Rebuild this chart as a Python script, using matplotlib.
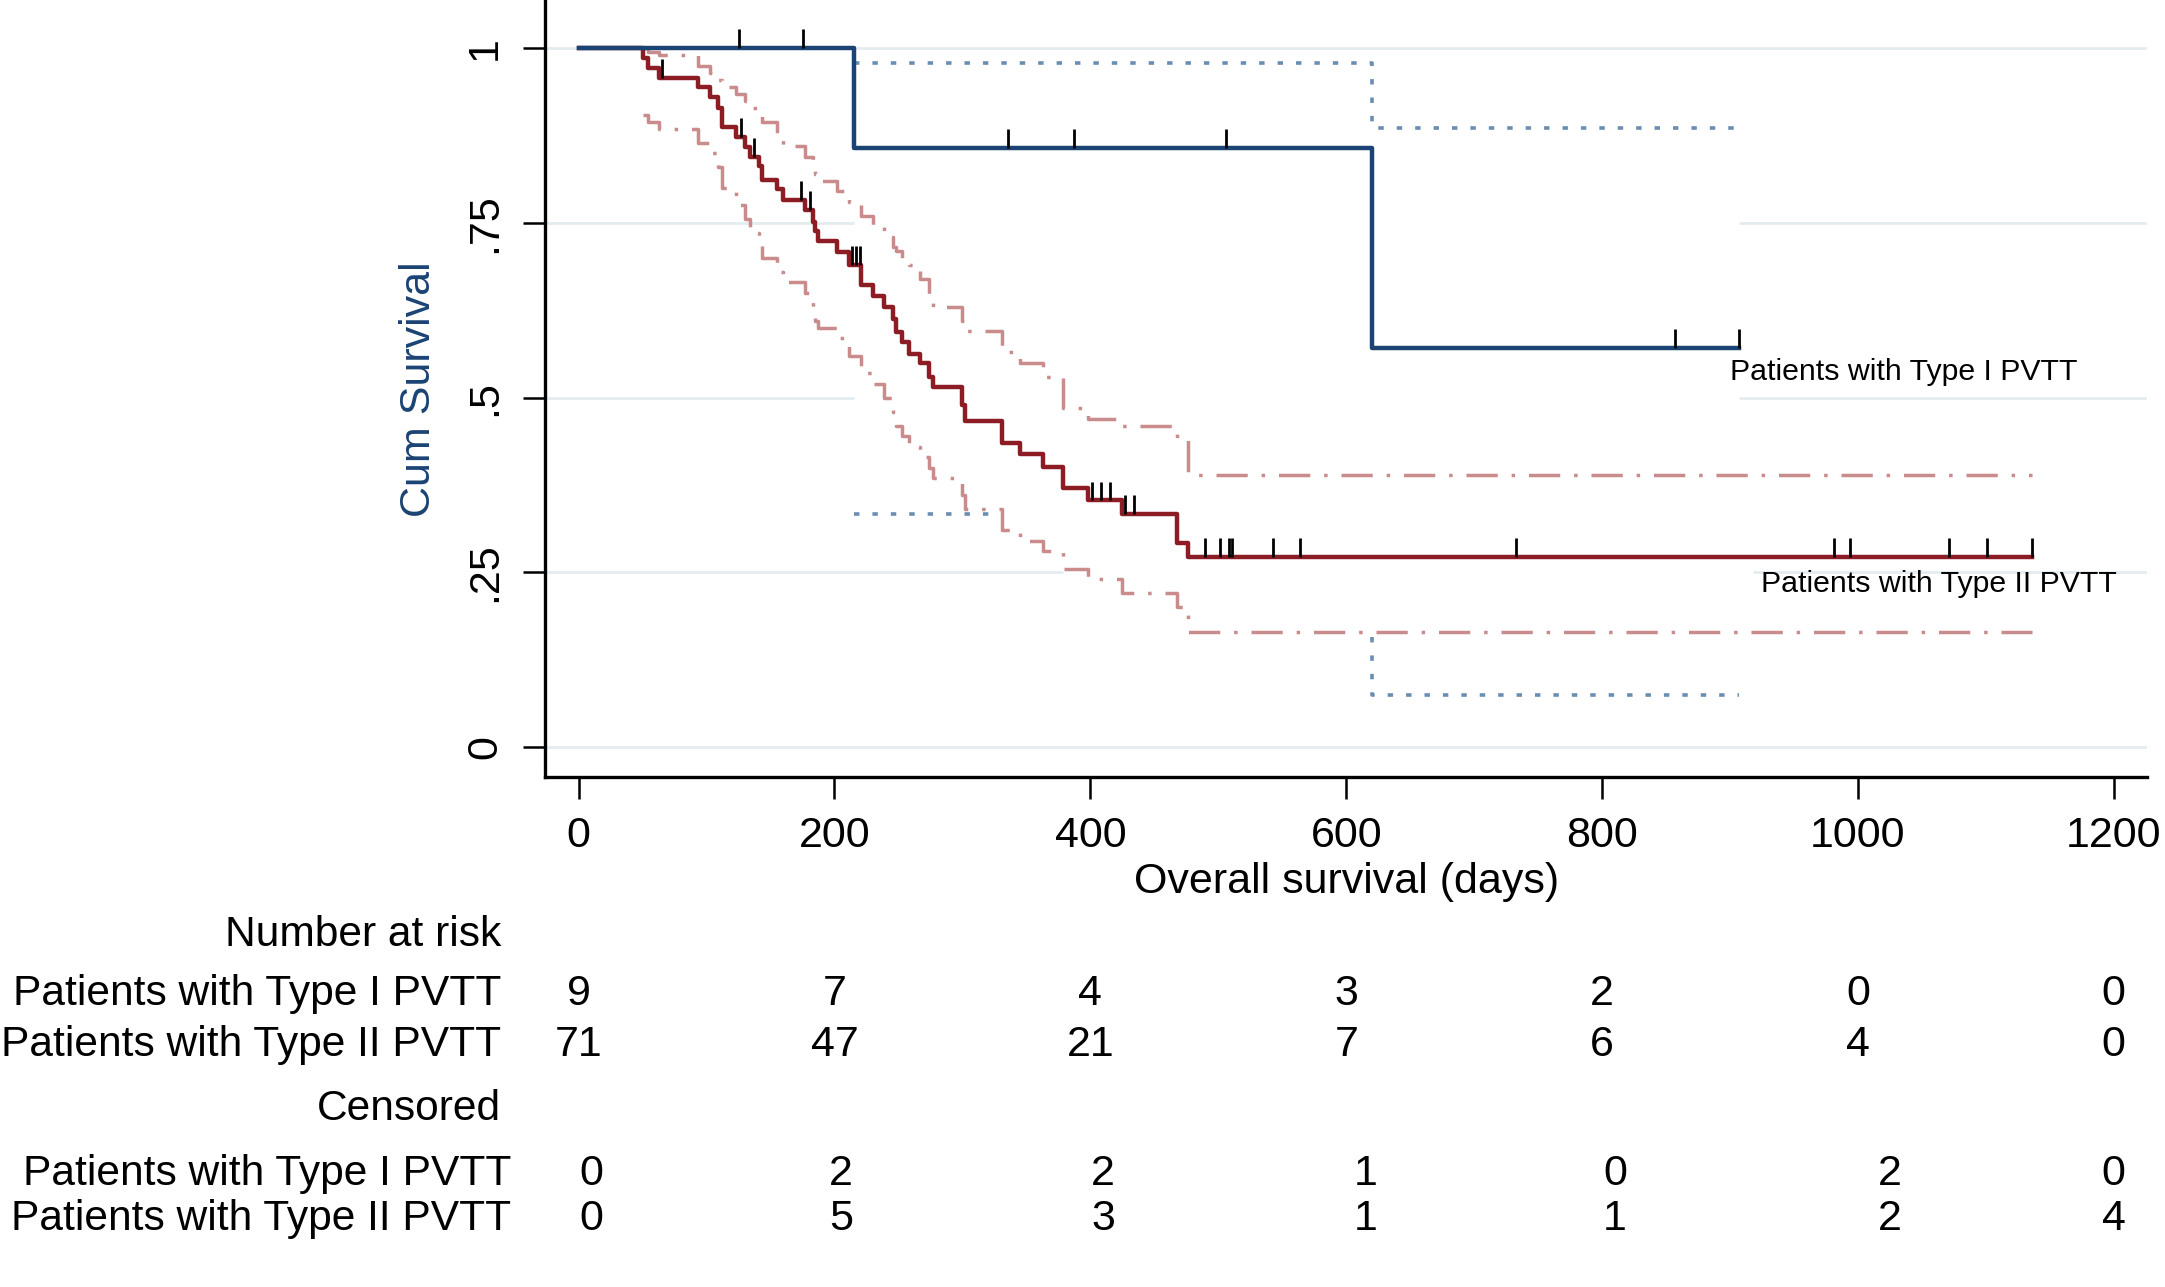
import numpy as np
import matplotlib
matplotlib.use("Agg")
import matplotlib.pyplot as plt
from matplotlib.transforms import blended_transform_factory

plt.rcParams['font.family'] = ['Liberation Sans', 'DejaVu Sans']

# Type I PVTT, Kaplan-Meier estimate
km1_t = [0, 215, 620, 907]
km1_s = [1.0, 0.857, 0.571, 0.571]
km1_hi_t = [215, 620, 907]
km1_hi = [0.979, 0.886, 0.886]
# lower band, only the parts that show in the figure
km1_lo_t = [215, 330, np.nan, 620, 620, 907]
km1_lo = [0.334, 0.334, np.nan, 0.158, 0.075, 0.075]
km1_cens = [125, 175, 336, 387, 506, 857, 907]

# Type II PVTT
km2_t = [0, 50, 54, 63, 93, 103, 109, 112, 123, 130, 134, 141, 143, 155, 160,
         177, 183, 185, 187, 202, 211, 221, 230, 239, 246, 248, 253, 258, 267,
         274, 277, 300, 302, 331, 345, 363, 379, 398, 425, 468, 476, 1136]
km2_s = [1.0, 0.986, 0.972, 0.958, 0.944, 0.930, 0.915, 0.887, 0.873, 0.859,
         0.845, 0.831, 0.812, 0.798, 0.783, 0.769, 0.752, 0.738, 0.724, 0.709,
         0.690, 0.661, 0.645, 0.630, 0.612, 0.594, 0.580, 0.563, 0.549, 0.530,
         0.515, 0.490, 0.467, 0.435, 0.419, 0.401, 0.370, 0.353, 0.334, 0.292,
         0.272, 0.272]
km2_hi = [np.nan, 1.0, 0.995, 0.99, 0.975, 0.965, 0.955, 0.945, 0.935, 0.925,
          0.915, 0.905, 0.895, 0.875, 0.86, 0.845, 0.83, 0.82, 0.81, 0.795,
          0.78, 0.76, 0.745, 0.73, 0.715, 0.71, 0.70, 0.69, 0.67, 0.645, 0.63,
          0.61, 0.595, 0.565, 0.55, 0.53, 0.485, 0.47, 0.46, 0.44, 0.39, 0.39]
km2_lo = [np.nan, 0.905, 0.895, 0.885, 0.865, 0.85, 0.83, 0.80, 0.775, 0.755,
          0.735, 0.72, 0.70, 0.68, 0.665, 0.65, 0.625, 0.61, 0.60, 0.585,
          0.56, 0.535, 0.52, 0.50, 0.48, 0.46, 0.445, 0.43, 0.415, 0.40, 0.385,
          0.36, 0.34, 0.31, 0.295, 0.28, 0.255, 0.24, 0.22, 0.20, 0.165, 0.165]
km2_cens = [65, 127, 137, 174, 181, 214, 217, 220, 401, 408, 415, 427, 434,
            490, 501, 508, 511, 543, 564, 733, 981, 994, 1071, 1101, 1136]

# risk table
tab_days = [0, 200, 400, 600, 800, 1000, 1200]
risk_1 = [9, 7, 4, 3, 2, 0, 0]
risk_2 = [71, 47, 21, 7, 6, 4, 0]
cens_1 = [0, 2, 2, 1, 0, 2, 0]
cens_2 = [0, 5, 3, 1, 1, 2, 4]
cens_x = [10, 205, 410, 615, 810, 1025, 1200]

navy = '#1b4373'
maroon = '#8c1d24'
navy_ci = '#6a8db3'
maroon_ci = '#c98b8c'
grid_c = '#e3edf0'

# the grid is broken in the original where the curves run
grid_runs = {
    0.0: [(-26, 1226)],
    0.25: [(-26, 379), (918, 1226)],
    0.5: [(-26, 215), (907, 1226)],
    0.75: [(-26, 215), (907, 1226)],
    1.0: [(-26, 1226)],
}


def level_at(t, times, surv):
    i = np.searchsorted(times, t, side='right') - 1
    return np.asarray(surv)[i]


fig = plt.figure(figsize=(21.65, 12.87), dpi=100)
ax = fig.add_axes([0.2519, 0.3959, 0.7398, 0.6041])

for v, runs in grid_runs.items():
    for a, b in runs:
        ax.hlines(v, a, b, color=grid_c, lw=2, zorder=0)

# confidence bands
dots = (0, (1.5, 3.6))
dashdot = (0, (9, 4, 1, 4))
ax.plot(km1_hi_t, km1_hi, drawstyle='steps-post', color=navy_ci, lw=2.6,
        linestyle=dots, zorder=2)
ax.plot(km1_lo_t, km1_lo, drawstyle='steps-post', color=navy_ci, lw=2.6,
        linestyle=dots, zorder=2)
ax.plot(km2_t, km2_hi, drawstyle='steps-post', color=maroon_ci, lw=2.5,
        linestyle=dashdot, zorder=2)
ax.plot(km2_t, km2_lo, drawstyle='steps-post', color=maroon_ci, lw=2.5,
        linestyle=dashdot, zorder=2)

# survival curves
ax.plot(km2_t, km2_s, drawstyle='steps-post', color=maroon, lw=3.2, zorder=3)
ax.plot(km1_t, km1_s, drawstyle='steps-post', color=navy, lw=3.2, zorder=4)

# censoring marks
for t in km1_cens:
    s = level_at(t, km1_t, km1_s)
    ax.vlines(t, s, s + 0.027, color='black', lw=2, zorder=5)
for t in km2_cens:
    s = level_at(t, km2_t, km2_s)
    ax.vlines(t, s, s + 0.027, color='black', lw=2, zorder=5)

ax.text(900, 0.536, 'Patients with Type I PVTT', fontsize=21.8, va='center', ha='left')
ax.text(924, 0.233, 'Patients with Type II PVTT', fontsize=21.8, va='center', ha='left')

ax.set_xlim(-26, 1226)
ax.set_ylim(-0.0435, 1.069)
ax.set_xticks(tab_days)
ax.set_yticks([0, 0.25, 0.5, 0.75, 1])
ax.set_yticklabels(['0', '.25', '.5', '.75', '1'], rotation=90, va='center')
ax.tick_params(axis='both', labelsize=31, length=16, width=1.8)
ax.tick_params(axis='y', pad=13)
ax.tick_params(axis='x', pad=12)
for side in ['top', 'right']:
    ax.spines[side].set_visible(False)
for side in ['left', 'bottom']:
    ax.spines[side].set_linewidth(2.4)

ax.set_ylabel('Cum Survival', fontsize=31, color=navy)
ax.yaxis.set_label_coords(-0.079, 0.5)
ax.yaxis.label.set_va('center')
ax.set_xlabel('Overall survival (days)', fontsize=31)
ax.xaxis.set_label_coords(0.5, -0.135)
ax.xaxis.label.set_va('center')

# number at risk / censored table
fs = 31
fs_lab = 30.6
tr = blended_transform_factory(ax.transData, fig.transFigure)
fig.text(0.2315, 0.2736, 'Number at risk', fontsize=fs_lab, ha='right', va='center')
fig.text(0.2315, 0.2275, 'Patients with Type I PVTT', fontsize=fs_lab, ha='right', va='center')
fig.text(0.2315, 0.1878, 'Patients with Type II PVTT', fontsize=fs_lab, ha='right', va='center')
fig.text(0.2315, 0.1384, 'Censored', fontsize=fs_lab, ha='right', va='center')
fig.text(0.236, 0.088, 'Patients with Type I PVTT', fontsize=fs_lab, ha='right', va='center')
fig.text(0.236, 0.0526, 'Patients with Type II PVTT', fontsize=fs_lab, ha='right', va='center')
for d, a, b in zip(tab_days, risk_1, risk_2):
    fig.text(d, 0.2275, str(a), fontsize=fs, ha='center', va='center', transform=tr)
    fig.text(d, 0.1878, str(b), fontsize=fs, ha='center', va='center', transform=tr)
for d, a, b in zip(cens_x, cens_1, cens_2):
    fig.text(d, 0.088, str(a), fontsize=fs, ha='center', va='center', transform=tr)
    fig.text(d, 0.0526, str(b), fontsize=fs, ha='center', va='center', transform=tr)

fig.savefig('out.png', dpi=100)
